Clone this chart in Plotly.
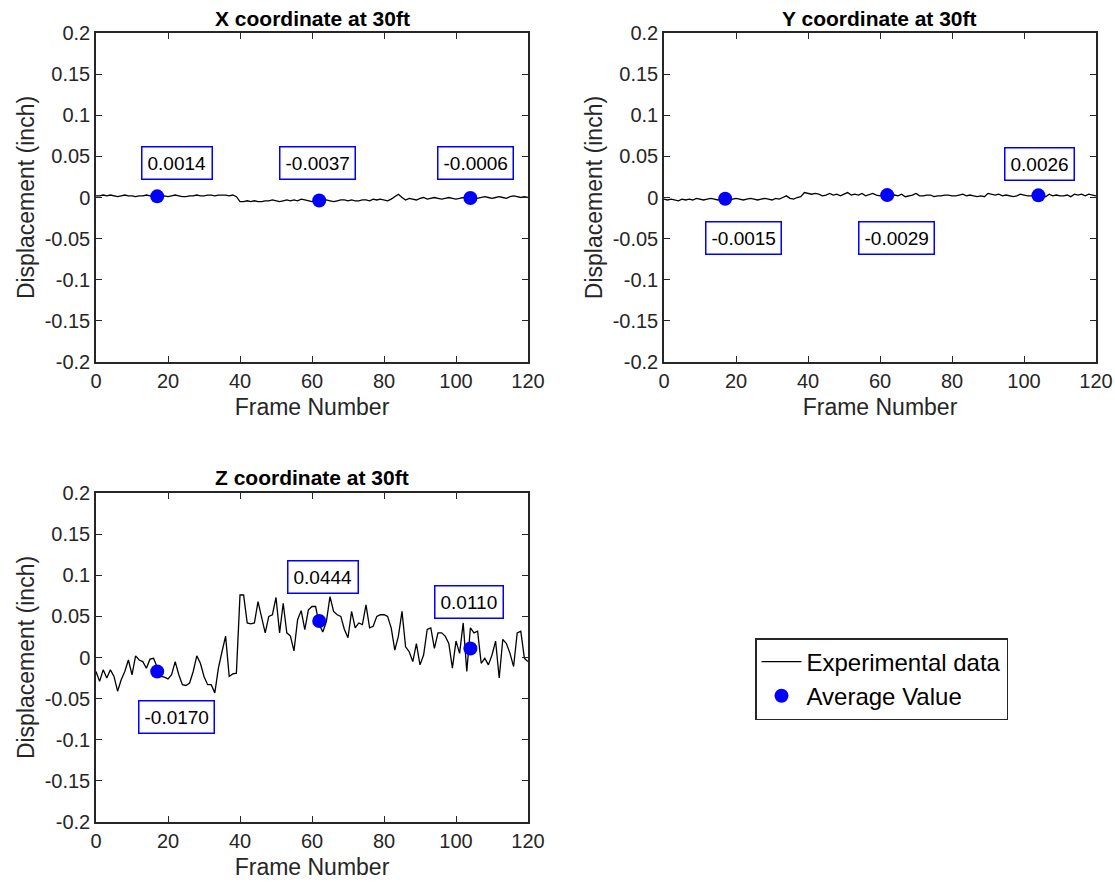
import plotly.graph_objects as go

frames = list(range(121))

x_disp = [0.002,0.002,0.003,0.002,0.003,0.002,0.001,0.002,0.003,0.002,
          0.002,0.001,0.002,0.002,0.003,0.002,0.002,0.001,0.001,0.002,
          0.001,0.002,0.003,0.002,0.001,0.001,0.002,0.002,0.003,0.002,
          0.002,0.003,0.003,0.002,0.003,0.003,0.003,0.002,0.003,0.001,
          -0.005,-0.005,-0.004,-0.005,-0.004,-0.005,-0.005,-0.004,-0.004,-0.003,
          -0.004,-0.005,-0.004,-0.003,-0.004,-0.003,-0.004,-0.002,-0.003,-0.004,
          -0.005,-0.004,-0.005,-0.004,-0.003,-0.004,-0.005,-0.004,-0.003,-0.003,
          -0.004,-0.003,-0.004,-0.004,-0.003,-0.003,-0.004,-0.002,-0.003,-0.002,
          -0.003,-0.004,-0.002,0.001,0.004,0.000,
          -0.003,-0.001,-0.002,-0.003,-0.001,0.000,-0.002,-0.001,0.000,-0.001,
          -0.002,-0.001,0.000,-0.001,-0.002,-0.001,0.000,-0.001,-0.001,-0.002,
          -0.001,0.000,0.001,0.000,-0.001,0.000,0.001,0.000,-0.001,0.001,
          0.002,0.001,0.000,0.001,0.000]

y_disp = [-0.002,-0.003,-0.002,-0.003,-0.004,-0.002,-0.003,-0.002,-0.003,-0.001,
          -0.002,-0.003,-0.002,-0.001,-0.002,-0.003,-0.002,-0.002,-0.003,-0.002,
          -0.001,-0.002,-0.003,-0.002,-0.001,-0.002,-0.003,-0.002,-0.001,-0.002,
          -0.003,-0.001,-0.002,0.000,0.002,-0.001,-0.002,0.000,0.001,
          0.006,0.005,0.004,0.005,0.004,0.002,0.003,0.005,0.003,0.004,
          0.002,0.004,0.006,0.003,0.004,0.003,0.005,0.002,0.004,0.005,
          0.003,0.002,0.004,0.004,0.002,0.003,0.002,0.004,0.001,0.002,
          0.003,0.005,0.002,0.002,0.003,0.003,0.001,0.002,0.002,0.003,
          0.003,0.002,0.002,0.003,0.004,0.002,0.003,0.002,0.001,0.002,
          0.001,0.005,0.004,0.003,0.004,0.002,0.003,0.002,0.001,0.002,
          0.004,0.003,0.002,0.002,0.003,0.002,0.003,0.001,0.004,0.002,
          0.003,0.002,0.002,0.003,0.001,0.004,0.003,0.004,0.002,0.004,
          0.003,0.002]

z_disp = [-0.017,-0.029,-0.015,-0.025,-0.015,-0.023,-0.041,-0.027,-0.017,-0.003,
          -0.021,0.002,-0.003,-0.005,-0.013,-0.002,-0.001,-0.013,-0.023,-0.024,
          -0.026,-0.021,-0.005,-0.021,-0.033,-0.034,-0.031,-0.017,0.002,-0.007,
          -0.023,-0.033,-0.033,-0.043,-0.013,0.007,0.026,-0.023,-0.020,-0.019,
          0.076,0.076,0.042,0.041,0.042,0.068,0.048,0.030,0.050,0.052,
          0.073,0.030,0.066,0.030,0.026,0.008,0.046,0.057,0.034,0.058,
          0.062,0.062,0.040,0.031,0.044,0.074,0.056,0.052,0.050,0.034,
          0.024,0.056,0.036,0.042,0.040,0.064,0.036,0.038,0.050,0.052,
          0.052,0.050,0.036,0.009,0.026,0.056,0.013,0.007,-0.005,0.017,
          -0.009,0.003,0.034,0.036,0.011,0.030,0.030,0.026,0.017,-0.013,
          0.020,0.005,0.042,-0.017,0.036,0.030,0.032,-0.007,-0.001,-0.009,
          0.003,0.020,-0.025,0.022,0.017,0.005,-0.011,0.030,0.032,-0.001,
          -0.005]

avg_frames = [17, 62, 104]
x_avg = [0.0014, -0.0037, -0.0006]
y_avg = [-0.0015, 0.0029, 0.0026]
z_avg = [-0.0170, 0.0444, 0.0110]
x_labels = ["0.0014", "-0.0037", "-0.0006"]
y_labels = ["-0.0015", "-0.0029", "0.0026"]
z_labels = ["-0.0170", "0.0444", "0.0110"]
# label box centres (data units)
x_lab_pos = [(22.5, 0.042), (61.4, 0.042), (105.5, 0.042)]
y_lab_pos = [(22.1, -0.049), (64.7, -0.049), (104.2, 0.041)]
z_lab_pos = [(22.4, -0.072), (63.1, 0.098), (103.6, 0.0675)]

titles = ["X coordinate at 30ft", "Y coordinate at 30ft", "Z coordinate at 30ft"]
x_ticks = [0, 20, 40, 60, 80, 100, 120]
y_ticks = [-0.2, -0.15, -0.1, -0.05, 0, 0.05, 0.1, 0.15, 0.2]
y_ticktext = ["-0.2", "-0.15", "-0.1", "-0.05", "0", "0.05", "0.1", "0.15", "0.2"]

W, H = 1115, 886
FONT = "Liberation Sans, Arial, Helvetica, sans-serif"
AX = "#262626"


def fx(px):
    return px / W


def fy(py):
    return 1 - py / H


fig = go.Figure()

panels = [
    (x_disp, x_avg, x_labels, x_lab_pos, "x", "y", (96, 528), (33, 362)),
    (y_disp, y_avg, y_labels, y_lab_pos, "x2", "y2", (664, 1096), (33, 362)),
    (z_disp, z_avg, z_labels, z_lab_pos, "x3", "y3", (96, 528), (493, 822)),
]

for i, (vals, avg, labs, lpos, xa, ya, xpx, ypx) in enumerate(panels):
    fig.add_trace(go.Scatter(x=frames, y=vals, mode="lines", xaxis=xa, yaxis=ya,
                             line=dict(color="black", width=1.3),
                             name="Experimental data", showlegend=(i == 2)))
    fig.add_trace(go.Scatter(x=avg_frames, y=avg, mode="markers", xaxis=xa, yaxis=ya,
                             marker=dict(color="#0000FF", size=14),
                             name="Average Value", showlegend=(i == 2)))
    for (px, py), t in zip(lpos, labs):
        fig.add_annotation(x=px, y=py, xref=xa, yref=ya, text=t, showarrow=False,
                           font=dict(family=FONT, size=19, color="black"),
                           bgcolor="white", bordercolor="#0000FF", borderwidth=1.5,
                           borderpad=5, xanchor="center", yanchor="middle")
    xn = "xaxis" if xa == "x" else "xaxis" + xa[1:]
    yn = "yaxis" if ya == "y" else "yaxis" + ya[1:]
    common = dict(showline=True, linecolor=AX, linewidth=1.5, mirror="ticks",
                  ticks="inside", ticklen=6, tickcolor=AX, tickwidth=1.3,
                  showgrid=False, zeroline=False, automargin=False,
                  tickfont=dict(family=FONT, size=20, color=AX))
    fig.layout[xn] = dict(domain=[fx(xpx[0]), fx(xpx[1])], range=[0, 120],
                          tickvals=x_ticks, anchor=ya,
                          title=dict(text="Frame Number", standoff=8,
                                     font=dict(family=FONT, size=23, color=AX)),
                          **common)
    fig.layout[yn] = dict(domain=[fy(ypx[1]), fy(ypx[0])], range=[-0.2, 0.2],
                          tickvals=y_ticks, ticktext=y_ticktext, anchor=xa,
                          title=dict(text="Displacement (inch)", standoff=4,
                                     font=dict(family=FONT, size=23, color=AX)),
                          **common)
    fig.add_annotation(x=fx((xpx[0] + xpx[1]) / 2), y=fy(ypx[0] - 15),
                       xref="paper", yref="paper", text="<b>" + titles[i] + "</b>",
                       showarrow=False, font=dict(family=FONT, size=21, color="black"),
                       xanchor="center", yanchor="middle")

fig.update_layout(
    width=W, height=H,
    margin=dict(l=0, r=0, t=0, b=0, autoexpand=False),
    paper_bgcolor="white", plot_bgcolor="white",
    showlegend=True,
    legend=dict(x=fx(755), y=fy(638), xanchor="left", yanchor="top",
                bgcolor="white", bordercolor=AX, borderwidth=1.5,
                font=dict(family=FONT, size=24, color="black"),
                itemwidth=40, tracegroupgap=0),
)

fig.write_html("out.html", config={"displayModeBar": False},
               post_script="document.body.style.margin='0';document.body.style.overflow='hidden';")
